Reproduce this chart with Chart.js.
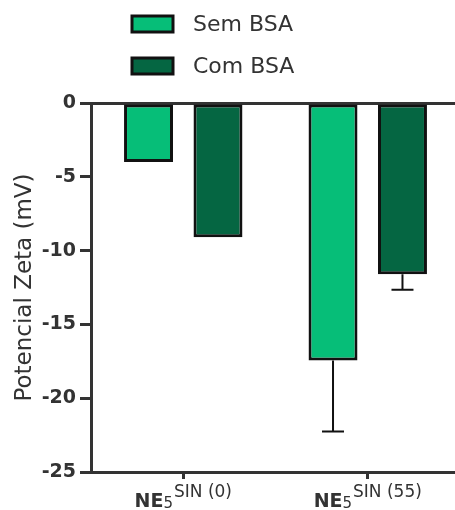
<!DOCTYPE html>
<html>
<head>
<meta charset="utf-8">
<script src="https://cdn.jsdelivr.net/npm/chart.js@4/dist/chart.umd.min.js"></script>
<style>
  html, body { margin: 0; padding: 0; background: #fff; overflow: hidden; }
  #wrap { width: 460px; height: 510px; }
</style>
</head>
<body>
<div id="wrap"><canvas id="zeta" width="460" height="510"></canvas></div>
<script>
/* Potencial Zeta — Sem BSA vs Com BSA */

const categories = ['NE5 SIN (0)', 'NE5 SIN (55)'];
const labelMain = ['NE', 'NE'];
const labelSub = ['5', '5'];
const labelSup = ['SIN (0)', 'SIN (55)'];

const seriesNames = ['Sem BSA', 'Com BSA'];
const semBSA = [-4.0, -17.45];
const semBSAErr = [0, 4.8];
const comBSA = [-9.1, -11.6];
const comBSAErr = [0, 1.05];

const yMin = -25, yMax = 0, yStep = 5;

const INK = '#333333';
const FONT = 'DejaVu Sans';

// error bars (downwards, from bar end)
const errorBars = {
  id: 'errorBars',
  afterDatasetsDraw(chart) {
    const ctx = chart.ctx;
    const y = chart.scales.y;
    chart.data.datasets.forEach((ds, di) => {
      const meta = chart.getDatasetMeta(di);
      meta.data.forEach((bar, i) => {
        const err = ds.errors[i];
        if (!err) return;
        const yEnd = y.getPixelForValue(ds.data[i] - err);
        ctx.save();
        ctx.strokeStyle = '#111';
        ctx.lineWidth = 2;
        ctx.beginPath();
        ctx.moveTo(bar.x, bar.y);
        ctx.lineTo(bar.x, yEnd);
        ctx.moveTo(bar.x - 11, yEnd);
        ctx.lineTo(bar.x + 11, yEnd);
        ctx.stroke();
        ctx.restore();
      });
    });
  }
};

// legend stacked on top
const stackedLegend = {
  id: 'stackedLegend',
  afterDraw(chart) {
    const ctx = chart.ctx;
    chart.data.datasets.forEach((ds, di) => {
      const cy = 24 + di * 42;
      ctx.save();
      ctx.fillStyle = ds.backgroundColor;
      ctx.strokeStyle = '#111';
      ctx.lineWidth = 3;
      ctx.beginPath();
      ctx.rect(132, cy - 8, 41, 16);
      ctx.fill();
      ctx.stroke();
      ctx.fillStyle = INK;
      ctx.font = `22px "${FONT}"`;
      ctx.textBaseline = 'middle';
      ctx.fillText(ds.label, 193, cy + 1);
      ctx.restore();
    });
  }
};

// x labels with sub/superscript
const richXLabels = {
  id: 'richXLabels',
  afterDraw(chart) {
    const ctx = chart.ctx;
    const x = chart.scales.x;
    const fMain = `bold 19px "${FONT}"`;
    const fSub = `15px "${FONT}"`;
    const fSup = `17px "${FONT}"`;
    const base = 507;
    categories.forEach((c, i) => {
      ctx.save();
      ctx.fillStyle = INK;
      ctx.textBaseline = 'alphabetic';
      ctx.font = fMain; const wM = ctx.measureText(labelMain[i]).width;
      ctx.font = fSub; const wS = ctx.measureText(labelSub[i]).width;
      ctx.font = fSup; const wU = ctx.measureText(labelSup[i]).width;
      let px = x.getPixelForValue(i) - (wM + wS + 1 + wU) / 2;
      ctx.font = fMain; ctx.fillText(labelMain[i], px, base); px += wM;
      ctx.font = fSub; ctx.fillText(labelSub[i], px, base + 1); px += wS + 1;
      ctx.font = fSup; ctx.fillText(labelSup[i], px, base - 10);
      ctx.restore();
    });
  }
};

new Chart(document.getElementById('zeta'), {
  type: 'bar',
  data: {
    labels: categories,
    datasets: [
      { label: seriesNames[0], data: semBSA, errors: semBSAErr, backgroundColor: '#06BE78' },
      { label: seriesNames[1], data: comBSA, errors: comBSAErr, backgroundColor: '#056642' }
    ].map(d => Object.assign(d, {
      borderColor: '#111',
      borderWidth: 3,
      borderSkipped: false,
      categoryPercentage: 0.753,
      barPercentage: 0.705
    }))
  },
  options: {
    responsive: false,
    animation: false,
    layout: { padding: { top: 103, right: 0, bottom: 0, left: 0 } },
    plugins: { legend: { display: false }, tooltip: { enabled: false } },
    scales: {
      x: {
        afterFit: s => { s.height = 38; },
        border: { display: true, color: INK, width: 3 },
        grid: { offset: false, drawOnChartArea: false, drawTicks: true, tickLength: 7, tickColor: INK, tickWidth: 3, color: INK, lineWidth: 3 },
        ticks: { display: false }
      },
      y: {
        min: yMin,
        max: yMax,
        afterFit: s => { s.width = 91; },
        border: { display: true, color: INK, width: 3 },
        grid: {
          drawOnChartArea: true,
          color: c => (c.tick && c.tick.value === 0 ? INK : 'rgba(0,0,0,0)'),
          lineWidth: 3,
          tickColor: INK,
          tickWidth: 3,
          tickLength: 11
        },
        ticks: {
          stepSize: yStep,
          padding: 4,
          color: INK,
          font: { family: FONT, size: 19, weight: 'bold' }
        },
        title: {
          display: true,
          text: 'Potencial Zeta (mV)',
          color: INK,
          padding: { top: 11, bottom: 0 },
          font: { family: FONT, size: 23 }
        }
      }
    }
  },
  plugins: [errorBars, stackedLegend, richXLabels]
});
</script>
</body>
</html>
